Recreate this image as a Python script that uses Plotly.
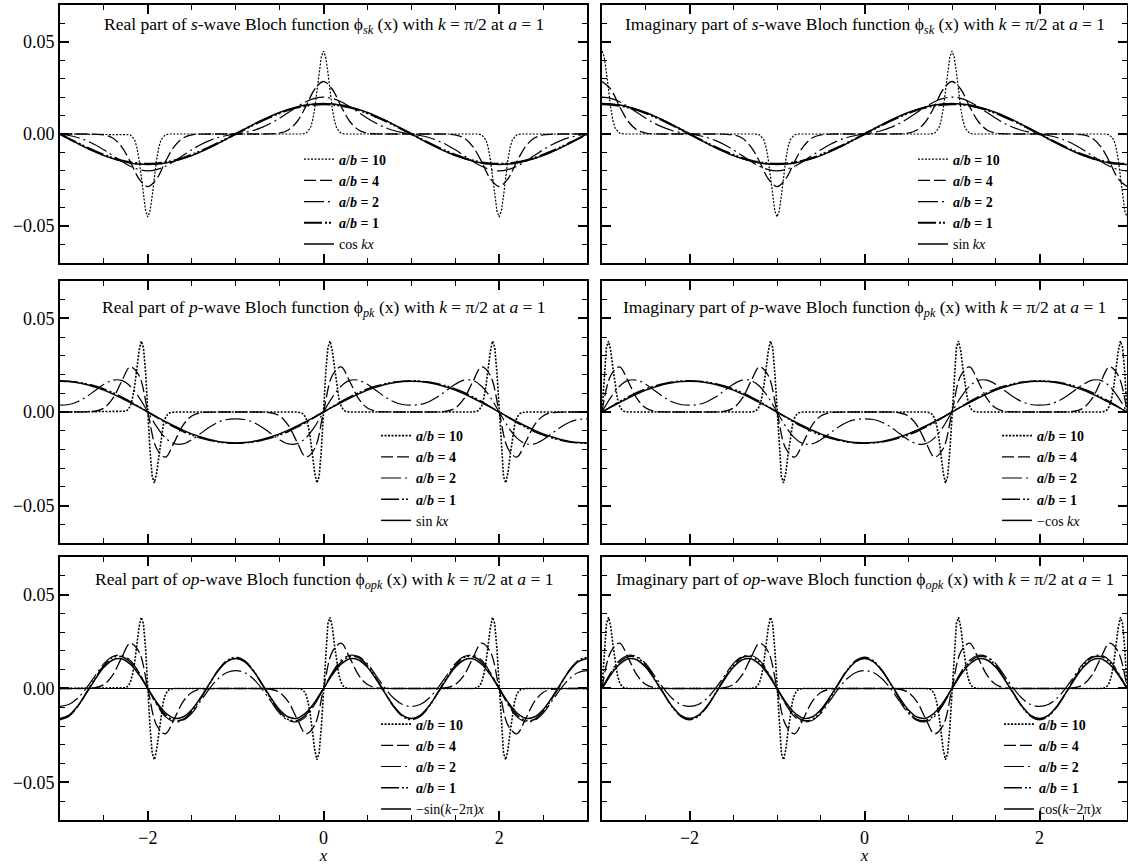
import plotly.graph_objects as go

FONT = "Liberation Serif"

# ---------------- shared sample positions ----------------
X = [-3.0, -2.9, -2.8, -2.7, -2.6, -2.5, -2.4, -2.3, -2.2, -2.1,
     -2.0, -1.9, -1.8, -1.7, -1.6, -1.5, -1.4, -1.3, -1.2, -1.1,
     -1.0, -0.9, -0.8, -0.7, -0.6, -0.5, -0.4, -0.3, -0.2, -0.1,
     0.0, 0.1, 0.2, 0.3, 0.4, 0.5, 0.6, 0.7, 0.8, 0.9, 1.0,
     1.1, 1.2, 1.3, 1.4, 1.5, 1.6, 1.7, 1.8, 1.9, 2.0,
     2.1, 2.2, 2.3, 2.4, 2.5, 2.6, 2.7, 2.8, 2.9, 3.0]

# ---------------- s-wave, a/b = 10 ----------------
X10_RE_S = [-3.0,
            -2.25, -2.2, -2.15, -2.125, -2.1, -2.075, -2.05, -2.025, -2.0, -1.975, -1.95, -1.925, -1.9, -1.875, -1.85, -1.8, -1.75,
            -0.25, -0.2, -0.15, -0.125, -0.1, -0.075, -0.05, -0.025, 0.0, 0.025, 0.05, 0.075, 0.1, 0.125, 0.15, 0.2, 0.25,
            1.75, 1.8, 1.85, 1.875, 1.9, 1.925, 1.95, 1.975, 2.0, 2.025, 2.05, 2.075, 2.1, 2.125, 2.15, 2.2, 2.25,
            3.0]
Y10_RE_S = [0,
            0, -0.0004, -0.0032, -0.0072, -0.0139, -0.0232, -0.0335, -0.0418, -0.045, -0.0418, -0.0335, -0.0232, -0.0139, -0.0072, -0.0032, -0.0004, 0,
            0, 0.0004, 0.0032, 0.0072, 0.0139, 0.0232, 0.0335, 0.0418, 0.045, 0.0418, 0.0335, 0.0232, 0.0139, 0.0072, 0.0032, 0.0004, 0,
            0, -0.0004, -0.0032, -0.0072, -0.0139, -0.0232, -0.0335, -0.0418, -0.045, -0.0418, -0.0335, -0.0232, -0.0139, -0.0072, -0.0032, -0.0004, 0,
            0]
X10_IM_S = [-3.0, -2.975, -2.95, -2.925, -2.9, -2.875, -2.85, -2.8, -2.75,
            -1.25, -1.2, -1.15, -1.125, -1.1, -1.075, -1.05, -1.025, -1.0, -0.975, -0.95, -0.925, -0.9, -0.875, -0.85, -0.8, -0.75,
            0.75, 0.8, 0.85, 0.875, 0.9, 0.925, 0.95, 0.975, 1.0, 1.025, 1.05, 1.075, 1.1, 1.125, 1.15, 1.2, 1.25,
            2.75, 2.8, 2.85, 2.875, 2.9, 2.925, 2.95, 2.975, 3.0]
Y10_IM_S = [0.045, 0.0418, 0.0335, 0.0232, 0.0139, 0.0072, 0.0032, 0.0004, 0,
            0, -0.0004, -0.0032, -0.0072, -0.0139, -0.0232, -0.0335, -0.0418, -0.045, -0.0418, -0.0335, -0.0232, -0.0139, -0.0072, -0.0032, -0.0004, 0,
            0, 0.0004, 0.0032, 0.0072, 0.0139, 0.0232, 0.0335, 0.0418, 0.045, 0.0418, 0.0335, 0.0232, 0.0139, 0.0072, 0.0032, 0.0004, 0,
            0, -0.0004, -0.0032, -0.0072, -0.0139, -0.0232, -0.0335, -0.0418, -0.045]

# ---------------- p-wave (and op-wave), a/b = 10 ----------------
X10_RE_P = [-3.0,
            -2.3, -2.25, -2.225, -2.2, -2.175, -2.15, -2.125, -2.1, -2.075, -2.05, -2.025, -2.0,
            -1.975, -1.95, -1.925, -1.9, -1.875, -1.85, -1.825, -1.8, -1.775, -1.75, -1.7,
            -0.3, -0.25, -0.225, -0.2, -0.175, -0.15, -0.125, -0.1, -0.075, -0.05, -0.025, 0.0,
            0.025, 0.05, 0.075, 0.1, 0.125, 0.15, 0.175, 0.2, 0.225, 0.25, 0.3,
            1.7, 1.75, 1.775, 1.8, 1.825, 1.85, 1.875, 1.9, 1.925, 1.95, 1.975, 2.0,
            2.025, 2.05, 2.075, 2.1, 2.125, 2.15, 2.175, 2.2, 2.225, 2.25, 2.3,
            3.0]
Y10_RE_P = [0,
            0, 0.0004, 0.0013, 0.0032, 0.0073, 0.014, 0.0232, 0.0326, 0.0379, 0.0345, 0.0208, 0,
            -0.0208, -0.0345, -0.0379, -0.0326, -0.0232, -0.014, -0.0073, -0.0032, -0.0013, -0.0004, 0,
            0, -0.0004, -0.0013, -0.0032, -0.0073, -0.014, -0.0232, -0.0326, -0.0379, -0.0345, -0.0208, 0,
            0.0208, 0.0345, 0.0379, 0.0326, 0.0232, 0.014, 0.0073, 0.0032, 0.0013, 0.0004, 0,
            0, 0.0004, 0.0013, 0.0032, 0.0073, 0.014, 0.0232, 0.0326, 0.0379, 0.0345, 0.0208, 0,
            -0.0208, -0.0345, -0.0379, -0.0326, -0.0232, -0.014, -0.0073, -0.0032, -0.0013, -0.0004, 0,
            0]
X10_IM_P = [-3.0, -2.975, -2.95, -2.925, -2.9, -2.875, -2.85, -2.825, -2.8, -2.775, -2.75, -2.7,
            -1.3, -1.25, -1.225, -1.2, -1.175, -1.15, -1.125, -1.1, -1.075, -1.05, -1.025, -1.0,
            -0.975, -0.95, -0.925, -0.9, -0.875, -0.85, -0.825, -0.8, -0.775, -0.75, -0.7,
            0.7, 0.75, 0.775, 0.8, 0.825, 0.85, 0.875, 0.9, 0.925, 0.95, 0.975, 1.0,
            1.025, 1.05, 1.075, 1.1, 1.125, 1.15, 1.175, 1.2, 1.225, 1.25, 1.3,
            2.7, 2.75, 2.775, 2.8, 2.825, 2.85, 2.875, 2.9, 2.925, 2.95, 2.975, 3.0]
Y10_IM_P = [0, 0.0208, 0.0345, 0.0379, 0.0326, 0.0232, 0.014, 0.0073, 0.0032, 0.0013, 0.0004, 0,
            0, 0.0004, 0.0013, 0.0032, 0.0073, 0.014, 0.0232, 0.0326, 0.0379, 0.0345, 0.0208, 0,
            -0.0208, -0.0345, -0.0379, -0.0326, -0.0232, -0.014, -0.0073, -0.0032, -0.0013, -0.0004, 0,
            0, -0.0004, -0.0013, -0.0032, -0.0073, -0.014, -0.0232, -0.0326, -0.0379, -0.0345, -0.0208, 0,
            0.0208, 0.0345, 0.0379, 0.0326, 0.0232, 0.014, 0.0073, 0.0032, 0.0013, 0.0004, 0,
            0, 0.0004, 0.0013, 0.0032, 0.0073, 0.014, 0.0232, 0.0326, 0.0379, 0.0345, 0.0208, 0]

# ---------------- s-wave, sampled on X ----------------
RE_S_AB4 = [0, 0, 0, 0, -0.0001, -0.0005, -0.0022, -0.0068, -0.0150, -0.0243,
            -0.0285, -0.0243, -0.0150, -0.0068, -0.0022, -0.0005, -0.0001, 0, 0, 0,
            0, 0, 0, 0, 0.0001, 0.0005, 0.0022, 0.0068, 0.0150, 0.0243,
            0.0285, 0.0243, 0.0150, 0.0068, 0.0022, 0.0005, 0.0001, 0, 0, 0, 0,
            0, 0, 0, -0.0001, -0.0005, -0.0022, -0.0068, -0.0150, -0.0243, -0.0285,
            -0.0243, -0.0150, -0.0068, -0.0022, -0.0005, -0.0001, 0, 0, 0, 0]
IM_S_AB4 = [0.0285, 0.0243, 0.0150, 0.0068, 0.0022, 0.0005, 0.0001, 0, 0, 0,
            0, 0, 0, 0, -0.0001, -0.0005, -0.0022, -0.0068, -0.0150, -0.0243,
            -0.0285, -0.0243, -0.0150, -0.0068, -0.0022, -0.0005, -0.0001, 0, 0, 0,
            0, 0, 0, 0, 0.0001, 0.0005, 0.0022, 0.0068, 0.0150, 0.0243, 0.0285,
            0.0243, 0.0150, 0.0068, 0.0022, 0.0005, 0.0001, 0, 0, 0, 0,
            0, 0, 0, -0.0001, -0.0005, -0.0022, -0.0068, -0.0150, -0.0243, -0.0285]
RE_S_AB2 = [0, -0.0008, -0.0019, -0.0036, -0.0058, -0.0086, -0.0117, -0.0148, -0.0175, -0.0193,
            -0.0200, -0.0193, -0.0175, -0.0148, -0.0117, -0.0086, -0.0058, -0.0036, -0.0019, -0.0008,
            0, 0.0008, 0.0019, 0.0036, 0.0058, 0.0086, 0.0117, 0.0148, 0.0175, 0.0193,
            0.0200, 0.0193, 0.0175, 0.0148, 0.0117, 0.0086, 0.0058, 0.0036, 0.0019, 0.0008, 0,
            -0.0008, -0.0019, -0.0036, -0.0058, -0.0086, -0.0117, -0.0148, -0.0175, -0.0193, -0.0200,
            -0.0193, -0.0175, -0.0148, -0.0117, -0.0086, -0.0058, -0.0036, -0.0019, -0.0008, 0]
IM_S_AB2 = [0.0200, 0.0193, 0.0175, 0.0148, 0.0117, 0.0086, 0.0058, 0.0036, 0.0019, 0.0008,
            0, -0.0008, -0.0019, -0.0036, -0.0058, -0.0086, -0.0117, -0.0148, -0.0175, -0.0193,
            -0.0200, -0.0193, -0.0175, -0.0148, -0.0117, -0.0086, -0.0058, -0.0036, -0.0019, -0.0008,
            0, 0.0008, 0.0019, 0.0036, 0.0058, 0.0086, 0.0117, 0.0148, 0.0175, 0.0193, 0.0200,
            0.0193, 0.0175, 0.0148, 0.0117, 0.0086, 0.0058, 0.0036, 0.0019, 0.0008, 0,
            -0.0008, -0.0019, -0.0036, -0.0058, -0.0086, -0.0117, -0.0148, -0.0175, -0.0193, -0.0200]
RE_S_AB1 = [0, -0.0025, -0.0049, -0.0072, -0.0093, -0.0113, -0.0130, -0.0144, -0.0154, -0.0160,
            -0.0162, -0.0160, -0.0154, -0.0144, -0.0130, -0.0113, -0.0093, -0.0072, -0.0049, -0.0025,
            0, 0.0025, 0.0049, 0.0072, 0.0093, 0.0113, 0.0130, 0.0144, 0.0154, 0.0160,
            0.0162, 0.0160, 0.0154, 0.0144, 0.0130, 0.0113, 0.0093, 0.0072, 0.0049, 0.0025, 0,
            -0.0025, -0.0049, -0.0072, -0.0093, -0.0113, -0.0130, -0.0144, -0.0154, -0.0160, -0.0162,
            -0.0160, -0.0154, -0.0144, -0.0130, -0.0113, -0.0093, -0.0072, -0.0049, -0.0025, 0]
IM_S_AB1 = [0.0162, 0.0160, 0.0154, 0.0144, 0.0130, 0.0113, 0.0093, 0.0072, 0.0049, 0.0025,
            0, -0.0025, -0.0049, -0.0072, -0.0093, -0.0113, -0.0130, -0.0144, -0.0154, -0.0160,
            -0.0162, -0.0160, -0.0154, -0.0144, -0.0130, -0.0113, -0.0093, -0.0072, -0.0049, -0.0025,
            0, 0.0025, 0.0049, 0.0072, 0.0093, 0.0113, 0.0130, 0.0144, 0.0154, 0.0160, 0.0162,
            0.0160, 0.0154, 0.0144, 0.0130, 0.0113, 0.0093, 0.0072, 0.0049, 0.0025, 0,
            -0.0025, -0.0049, -0.0072, -0.0093, -0.0113, -0.0130, -0.0144, -0.0154, -0.0160, -0.0162]
RE_S_COS = [0, -0.0026, -0.0051, -0.0075, -0.0097, -0.0117, -0.0133, -0.0147, -0.0157, -0.0163,
            -0.0165, -0.0163, -0.0157, -0.0147, -0.0133, -0.0117, -0.0097, -0.0075, -0.0051, -0.0026,
            0, 0.0026, 0.0051, 0.0075, 0.0097, 0.0117, 0.0133, 0.0147, 0.0157, 0.0163,
            0.0165, 0.0163, 0.0157, 0.0147, 0.0133, 0.0117, 0.0097, 0.0075, 0.0051, 0.0026, 0,
            -0.0026, -0.0051, -0.0075, -0.0097, -0.0117, -0.0133, -0.0147, -0.0157, -0.0163, -0.0165,
            -0.0163, -0.0157, -0.0147, -0.0133, -0.0117, -0.0097, -0.0075, -0.0051, -0.0026, 0]
IM_S_SIN = [0.0165, 0.0163, 0.0157, 0.0147, 0.0133, 0.0117, 0.0097, 0.0075, 0.0051, 0.0026,
            0, -0.0026, -0.0051, -0.0075, -0.0097, -0.0117, -0.0133, -0.0147, -0.0157, -0.0163,
            -0.0165, -0.0163, -0.0157, -0.0147, -0.0133, -0.0117, -0.0097, -0.0075, -0.0051, -0.0026,
            0, 0.0026, 0.0051, 0.0075, 0.0097, 0.0117, 0.0133, 0.0147, 0.0157, 0.0163, 0.0165,
            0.0163, 0.0157, 0.0147, 0.0133, 0.0117, 0.0097, 0.0075, 0.0051, 0.0026, 0,
            -0.0026, -0.0051, -0.0075, -0.0097, -0.0117, -0.0133, -0.0147, -0.0157, -0.0163, -0.0165]

# ---------------- p-wave, sampled on X ----------------
RE_P_AB4 = [0, 0, 0, 0.0001, 0.0004, 0.0021, 0.0071, 0.0162, 0.0241, 0.0195,
            0, -0.0195, -0.0241, -0.0162, -0.0071, -0.0021, -0.0004, -0.0001, 0, 0,
            0, 0, 0, -0.0001, -0.0004, -0.0021, -0.0071, -0.0162, -0.0241, -0.0195,
            0, 0.0195, 0.0241, 0.0162, 0.0071, 0.0021, 0.0004, 0.0001, 0, 0, 0,
            0, 0, 0.0001, 0.0004, 0.0021, 0.0071, 0.0162, 0.0241, 0.0195, 0,
            -0.0195, -0.0241, -0.0162, -0.0071, -0.0021, -0.0004, -0.0001, 0, 0, 0]
IM_P_AB4 = [0, 0.0195, 0.0241, 0.0162, 0.0071, 0.0021, 0.0004, 0.0001, 0, 0,
            0, 0, 0, 0.0001, 0.0004, 0.0021, 0.0071, 0.0162, 0.0241, 0.0195,
            0, -0.0195, -0.0241, -0.0162, -0.0071, -0.0021, -0.0004, -0.0001, 0, 0,
            0, 0, 0, -0.0001, -0.0004, -0.0021, -0.0071, -0.0162, -0.0241, -0.0195, 0,
            0.0195, 0.0241, 0.0162, 0.0071, 0.0021, 0.0004, 0.0001, 0, 0, 0,
            0, 0, 0.0001, 0.0004, 0.0021, 0.0071, 0.0162, 0.0241, 0.0195, 0]
RE_P_AB2 = [0.0037, 0.0040, 0.0055, 0.0081, 0.0115, 0.0148, 0.0170, 0.0169, 0.0138, 0.0078,
            0, -0.0078, -0.0138, -0.0169, -0.0170, -0.0148, -0.0115, -0.0081, -0.0055, -0.0040,
            -0.0037, -0.0040, -0.0055, -0.0081, -0.0115, -0.0148, -0.0170, -0.0169, -0.0138, -0.0078,
            0, 0.0078, 0.0138, 0.0169, 0.0170, 0.0148, 0.0115, 0.0081, 0.0055, 0.0040, 0.0037,
            0.0040, 0.0055, 0.0081, 0.0115, 0.0148, 0.0170, 0.0169, 0.0138, 0.0078, 0,
            -0.0078, -0.0138, -0.0169, -0.0170, -0.0148, -0.0115, -0.0081, -0.0055, -0.0040, -0.0037]
IM_P_AB2 = [0, 0.0078, 0.0138, 0.0169, 0.0170, 0.0148, 0.0115, 0.0081, 0.0055, 0.0040,
            0.0037, 0.0040, 0.0055, 0.0081, 0.0115, 0.0148, 0.0170, 0.0169, 0.0138, 0.0078,
            0, -0.0078, -0.0138, -0.0169, -0.0170, -0.0148, -0.0115, -0.0081, -0.0055, -0.0040,
            -0.0037, -0.0040, -0.0055, -0.0081, -0.0115, -0.0148, -0.0170, -0.0169, -0.0138, -0.0078, 0,
            0.0078, 0.0138, 0.0169, 0.0170, 0.0148, 0.0115, 0.0081, 0.0055, 0.0040, 0.0037,
            0.0040, 0.0055, 0.0081, 0.0115, 0.0148, 0.0170, 0.0169, 0.0138, 0.0078, 0]
RE_P_AB1 = [0.0167, 0.0165, 0.0160, 0.0151, 0.0139, 0.0123, 0.0104, 0.0081, 0.0056, 0.0028,
            0, -0.0028, -0.0056, -0.0081, -0.0104, -0.0123, -0.0139, -0.0151, -0.0160, -0.0165,
            -0.0167, -0.0165, -0.0160, -0.0151, -0.0139, -0.0123, -0.0104, -0.0081, -0.0056, -0.0028,
            0, 0.0028, 0.0056, 0.0081, 0.0104, 0.0123, 0.0139, 0.0151, 0.0160, 0.0165, 0.0167,
            0.0165, 0.0160, 0.0151, 0.0139, 0.0123, 0.0104, 0.0081, 0.0056, 0.0028, 0,
            -0.0028, -0.0056, -0.0081, -0.0104, -0.0123, -0.0139, -0.0151, -0.0160, -0.0165, -0.0167]
IM_P_AB1 = [0, 0.0028, 0.0056, 0.0081, 0.0104, 0.0123, 0.0139, 0.0151, 0.0160, 0.0165,
            0.0167, 0.0165, 0.0160, 0.0151, 0.0139, 0.0123, 0.0104, 0.0081, 0.0056, 0.0028,
            0, -0.0028, -0.0056, -0.0081, -0.0104, -0.0123, -0.0139, -0.0151, -0.0160, -0.0165,
            -0.0167, -0.0165, -0.0160, -0.0151, -0.0139, -0.0123, -0.0104, -0.0081, -0.0056, -0.0028, 0,
            0.0028, 0.0056, 0.0081, 0.0104, 0.0123, 0.0139, 0.0151, 0.0160, 0.0165, 0.0167,
            0.0165, 0.0160, 0.0151, 0.0139, 0.0123, 0.0104, 0.0081, 0.0056, 0.0028, 0]
RE_P_SIN = [0.0165, 0.0163, 0.0157, 0.0147, 0.0133, 0.0117, 0.0097, 0.0075, 0.0051, 0.0026,
            0, -0.0026, -0.0051, -0.0075, -0.0097, -0.0117, -0.0133, -0.0147, -0.0157, -0.0163,
            -0.0165, -0.0163, -0.0157, -0.0147, -0.0133, -0.0117, -0.0097, -0.0075, -0.0051, -0.0026,
            0, 0.0026, 0.0051, 0.0075, 0.0097, 0.0117, 0.0133, 0.0147, 0.0157, 0.0163, 0.0165,
            0.0163, 0.0157, 0.0147, 0.0133, 0.0117, 0.0097, 0.0075, 0.0051, 0.0026, 0,
            -0.0026, -0.0051, -0.0075, -0.0097, -0.0117, -0.0133, -0.0147, -0.0157, -0.0163, -0.0165]
IM_P_NCOS = [0, 0.0026, 0.0051, 0.0075, 0.0097, 0.0117, 0.0133, 0.0147, 0.0157, 0.0163,
             0.0165, 0.0163, 0.0157, 0.0147, 0.0133, 0.0117, 0.0097, 0.0075, 0.0051, 0.0026,
             0, -0.0026, -0.0051, -0.0075, -0.0097, -0.0117, -0.0133, -0.0147, -0.0157, -0.0163,
             -0.0165, -0.0163, -0.0157, -0.0147, -0.0133, -0.0117, -0.0097, -0.0075, -0.0051, -0.0026, 0,
             0.0026, 0.0051, 0.0075, 0.0097, 0.0117, 0.0133, 0.0147, 0.0157, 0.0163, 0.0165,
             0.0163, 0.0157, 0.0147, 0.0133, 0.0117, 0.0097, 0.0075, 0.0051, 0.0026, 0]

# ---------------- op-wave, sampled on X ----------------
RE_O_AB2 = [-0.0095, -0.0085, -0.0052, 0.0002, 0.0068, 0.0132, 0.0170, 0.0177, 0.0150, 0.0085,
            0, -0.0085, -0.0150, -0.0177, -0.0170, -0.0132, -0.0068, -0.0002, 0.0052, 0.0085,
            0.0095, 0.0085, 0.0052, -0.0002, -0.0068, -0.0132, -0.0170, -0.0177, -0.0150, -0.0085,
            0, 0.0085, 0.0150, 0.0177, 0.0170, 0.0132, 0.0068, 0.0002, -0.0052, -0.0085, -0.0095,
            -0.0085, -0.0052, 0.0002, 0.0068, 0.0132, 0.0170, 0.0177, 0.0150, 0.0085, 0,
            -0.0085, -0.0150, -0.0177, -0.0170, -0.0132, -0.0068, -0.0002, 0.0052, 0.0085, 0.0095]
IM_O_AB2 = [0, 0.0085, 0.0150, 0.0177, 0.0170, 0.0132, 0.0068, 0.0002, -0.0052, -0.0085,
            -0.0095, -0.0085, -0.0052, 0.0002, 0.0068, 0.0132, 0.0170, 0.0177, 0.0150, 0.0085,
            0, -0.0085, -0.0150, -0.0177, -0.0170, -0.0132, -0.0068, -0.0002, 0.0052, 0.0085,
            0.0095, 0.0085, 0.0052, -0.0002, -0.0068, -0.0132, -0.0170, -0.0177, -0.0150, -0.0085, 0,
            0.0085, 0.0150, 0.0177, 0.0170, 0.0132, 0.0068, 0.0002, -0.0052, -0.0085, -0.0095,
            -0.0085, -0.0052, 0.0002, 0.0068, 0.0132, 0.0170, 0.0177, 0.0150, 0.0085, 0]
RE_O_AB1 = [-0.0166, -0.0148, -0.0097, -0.0022, 0.0055, 0.0122, 0.0165, 0.0170, 0.0140, 0.0078,
            0, -0.0078, -0.0140, -0.0170, -0.0165, -0.0122, -0.0055, 0.0022, 0.0097, 0.0148,
            0.0166, 0.0148, 0.0097, 0.0022, -0.0055, -0.0122, -0.0165, -0.0170, -0.0140, -0.0078,
            0, 0.0078, 0.0140, 0.0170, 0.0165, 0.0122, 0.0055, -0.0022, -0.0097, -0.0148, -0.0166,
            -0.0148, -0.0097, -0.0022, 0.0055, 0.0122, 0.0165, 0.0170, 0.0140, 0.0078, 0,
            -0.0078, -0.0140, -0.0170, -0.0165, -0.0122, -0.0055, 0.0022, 0.0097, 0.0148, 0.0166]
IM_O_AB1 = [0, 0.0078, 0.0140, 0.0170, 0.0165, 0.0122, 0.0055, -0.0022, -0.0097, -0.0148,
            -0.0166, -0.0148, -0.0097, -0.0022, 0.0055, 0.0122, 0.0165, 0.0170, 0.0140, 0.0078,
            0, -0.0078, -0.0140, -0.0170, -0.0165, -0.0122, -0.0055, 0.0022, 0.0097, 0.0148,
            0.0166, 0.0148, 0.0097, 0.0022, -0.0055, -0.0122, -0.0165, -0.0170, -0.0140, -0.0078, 0,
            0.0078, 0.0140, 0.0170, 0.0165, 0.0122, 0.0055, -0.0022, -0.0097, -0.0148, -0.0166,
            -0.0148, -0.0097, -0.0022, 0.0055, 0.0122, 0.0165, 0.0170, 0.0140, 0.0078, 0]
RE_O_SIN = [-0.0160, -0.0143, -0.0094, -0.0025, 0.0049, 0.0113, 0.0152, 0.0158, 0.0129, 0.0073,
            0, -0.0073, -0.0129, -0.0158, -0.0152, -0.0113, -0.0049, 0.0025, 0.0094, 0.0143,
            0.0160, 0.0143, 0.0094, 0.0025, -0.0049, -0.0113, -0.0152, -0.0158, -0.0129, -0.0073,
            0, 0.0073, 0.0129, 0.0158, 0.0152, 0.0113, 0.0049, -0.0025, -0.0094, -0.0143, -0.0160,
            -0.0143, -0.0094, -0.0025, 0.0049, 0.0113, 0.0152, 0.0158, 0.0129, 0.0073, 0,
            -0.0073, -0.0129, -0.0158, -0.0152, -0.0113, -0.0049, 0.0025, 0.0094, 0.0143, 0.0160]
IM_O_COS = [0, 0.0073, 0.0129, 0.0158, 0.0152, 0.0113, 0.0049, -0.0025, -0.0094, -0.0143,
            -0.0160, -0.0143, -0.0094, -0.0025, 0.0049, 0.0113, 0.0152, 0.0158, 0.0129, 0.0073,
            0, -0.0073, -0.0129, -0.0158, -0.0152, -0.0113, -0.0049, 0.0025, 0.0094, 0.0143,
            0.0160, 0.0143, 0.0094, 0.0025, -0.0049, -0.0113, -0.0152, -0.0158, -0.0129, -0.0073, 0,
            0.0073, 0.0129, 0.0158, 0.0152, 0.0113, 0.0049, -0.0025, -0.0094, -0.0143, -0.0160,
            -0.0143, -0.0094, -0.0025, 0.0049, 0.0113, 0.0152, 0.0158, 0.0129, 0.0073, 0]

LEGEND_AB = ["<b><i>a</i>/<i>b</i> = 10</b>", "<b><i>a</i>/<i>b</i> = 4</b>",
             "<b><i>a</i>/<i>b</i> = 2</b>", "<b><i>a</i>/<i>b</i> = 1</b>"]

TITLES = [
    "Real part of <i>s</i>-wave Bloch function ϕ<sub><i>sk</i></sub> (x) with <i>k</i> = π/2 at <i>a</i> = 1",
    "Imaginary part of <i>s</i>-wave Bloch function ϕ<sub><i>sk</i></sub> (x) with <i>k</i> = π/2 at <i>a</i> = 1",
    "Real part of <i>p</i>-wave Bloch function ϕ<sub><i>pk</i></sub> (x) with <i>k</i> = π/2 at <i>a</i> = 1",
    "Imaginary part of <i>p</i>-wave Bloch function ϕ<sub><i>pk</i></sub> (x) with <i>k</i> = π/2 at <i>a</i> = 1",
    "Real part of <i>op</i>-wave Bloch function ϕ<sub><i>opk</i></sub> (x) with <i>k</i> = π/2 at <i>a</i> = 1",
    "Imaginary part of <i>op</i>-wave Bloch function ϕ<sub><i>opk</i></sub> (x) with <i>k</i> = π/2 at <i>a</i> = 1",
]
TRIG_NAMES = ["cos <i>kx</i>", "sin <i>kx</i>", "sin <i>kx</i>", "−cos <i>kx</i>",
              "−sin(<i>k</i>−2π)<i>x</i>", "cos(<i>k</i>−2π)<i>x</i>"]

PANELS = [
    ((X10_RE_S, Y10_RE_S), RE_S_AB4, RE_S_AB2, RE_S_AB1, RE_S_COS),
    ((X10_IM_S, Y10_IM_S), IM_S_AB4, IM_S_AB2, IM_S_AB1, IM_S_SIN),
    ((X10_RE_P, Y10_RE_P), RE_P_AB4, RE_P_AB2, RE_P_AB1, RE_P_SIN),
    ((X10_IM_P, Y10_IM_P), IM_P_AB4, IM_P_AB2, IM_P_AB1, IM_P_NCOS),
    ((X10_RE_P, Y10_RE_P), RE_P_AB4, RE_O_AB2, RE_O_AB1, RE_O_SIN),
    ((X10_IM_P, Y10_IM_P), IM_P_AB4, IM_O_AB2, IM_O_AB1, IM_O_COS),
]

# ---------------- layout geometry ----------------
XDOM = [[0.0, 0.4939], [0.5080, 1.0]]
YDOM = [[0.6834, 1.0], [0.3399, 0.6613], [0.0, 0.3227]]
TITLE_Y = [0.059, 0.0553, 0.0575]
LEG_POS = [(0.2240, 0.8300), (0.7994, 0.8300),
           (0.2962, 0.4908), (0.8782, 0.4908),
           (0.2962, 0.1368), (0.8800, 0.1368)]

fig = go.Figure()
layout = dict(
    width=1128, height=865,
    margin=dict(l=60, r=1, t=5, b=45, autoexpand=False),
    paper_bgcolor="white", plot_bgcolor="white",
    font=dict(family=FONT, color="black"),
    showlegend=True,
    annotations=[],
)

for i, (ab10, ab4, ab2, ab1, trig) in enumerate(PANELS):
    n = i + 1
    row, col = i // 2, i % 2
    sfx = "" if n == 1 else str(n)
    xa, ya, lg = "x" + sfx, "y" + sfx, "legend" + sfx
    top = row == 0
    styles = [
        dict(dash="2px,1.5px", width=1.2 if top else 1.6, shape="linear"),
        dict(dash="12px,4px", width=1.3, shape="spline"),
        dict(dash="20px,4px,2px,4px", width=1.2, shape="spline"),
        dict(dash="18px,3px,2px,2px,2px,3px", width=2.2 if top else 1.5, shape="spline"),
        dict(dash="solid", width=1.5, shape="spline"),
    ]
    series = [ab10, (X, ab4), (X, ab2), (X, ab1), (X, trig)]
    names = LEGEND_AB + [TRIG_NAMES[i]]
    for (xs, ys), st, nm in zip(series, styles, names):
        fig.add_trace(go.Scatter(
            x=xs, y=ys, mode="lines", name=nm, xaxis=xa, yaxis=ya, legend=lg,
            line=dict(color="black", width=st["width"], dash=st["dash"], shape=st["shape"]),
            hoverinfo="skip"))

    bottom = row == 2
    left = col == 0
    xaxis = dict(
        domain=XDOM[col], anchor=ya, range=[-3, 3], automargin=False,
        tick0=0, dtick=2, ticks="inside", ticklen=9, tickwidth=1.5, tickcolor="black",
        minor=dict(dtick=0.5, ticks="inside", ticklen=5, tickwidth=1.2, tickcolor="black"),
        showline=True, linewidth=2, linecolor="black", mirror="allticks",
        showgrid=False, zeroline=False,
        showticklabels=bottom,
        tickfont=dict(family=FONT, size=18, color="black"),
    )
    if bottom:
        xaxis["title"] = dict(text="<i>x</i>", font=dict(family=FONT, size=17, color="black"), standoff=7)
    layout["xaxis" + sfx] = xaxis
    layout["yaxis" + sfx] = dict(
        domain=YDOM[row], anchor=xa, range=[-0.07, 0.07], automargin=False,
        tick0=0, dtick=0.05, tickformat=".2f",
        ticks="inside", ticklen=9, tickwidth=1.5, tickcolor="black",
        minor=dict(dtick=0.01, ticks="inside", ticklen=5, tickwidth=1.2, tickcolor="black"),
        showline=True, linewidth=2, linecolor="black", mirror="allticks",
        showgrid=False,
        zeroline=bottom, zerolinecolor="black", zerolinewidth=0.8,
        showticklabels=left,
        tickfont=dict(family=FONT, size=18, color="black"),
    )
    lx, ly = LEG_POS[i]
    layout[lg] = dict(
        x=lx, y=ly, xref="paper", yref="paper", xanchor="left", yanchor="top",
        bgcolor="rgba(0,0,0,0)", borderwidth=0, tracegroupgap=0,
        traceorder="normal", font=dict(family=FONT, size=14, color="black"),
    )
    layout["annotations"].append(dict(
        text=TITLES[i], x=0, y=TITLE_Y[row], xref=xa, yref=ya,
        showarrow=False, xanchor="center", yanchor="middle",
        font=dict(family=FONT, size=17.5, color="black")))

fig.update_layout(**layout)
fig.write_html("out.html",
               config={"displayModeBar": False},
               post_script="document.body.style.margin='0px';document.body.style.padding='0px';")
